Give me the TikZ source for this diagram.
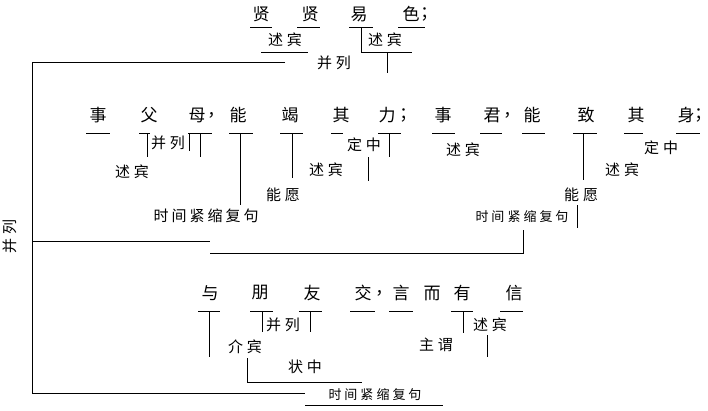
\documentclass[tikz,border=0pt]{standalone}
\usepackage{fontspec}
\newfontfamily\cjk{Noto Sans CJK SC}
\newcommand\gp{\hspace{4pt}}
\begin{document}
\begin{tikzpicture}[x=1pt,y=-1pt,line width=0.9pt,
  ch/.style={font=\cjk\fontsize{17}{17}\selectfont,inner sep=0},
  lb/.style={font=\cjk\fontsize{15}{15}\selectfont,inner sep=0},
  sm/.style={font=\cjk\fontsize{13}{13}\selectfont,inner sep=0},
  pn/.style={font=\cjk\fontsize{17}{17}\selectfont,inner sep=0,anchor=west}]
\useasboundingbox (0,0) rectangle (708,410);
\fill[white] (0,0) rectangle (708,410);
% ---------- top clause ----------
\node[ch] (a1) at (261,14) {贤};
\node[ch] (a2) at (310,14) {贤};
\node[ch] (a3) at (359,14) {易};
\node[ch] (a4) at (411,14) {色};
\node[pn] (a5) at (420,14) {；};
\draw (250,27) -- (272,27) (297,27) -- (320,27) (349,27) -- (373,27) (398,27) -- (425,27);
\node[lb] (la1) at (285,40) {述\gp 宾};
\draw (261,52) -- (308,52);
\draw (361,27) -- (361,52) -- (412,52);
\node[lb] (la2) at (385,40) {述\gp 宾};
\draw (387,52) -- (387,73);
\node[lb] (la3) at (334,63) {并\gp 列};
\draw (285,62) -- (32,62) -- (32,393) -- (305,393);
\node[lb,rotate=90] (lbig) at (10,236) {并\gp 列};
% ---------- middle clause ----------
\node[ch] (b1) at (98,115) {事};
\node[ch] (b2) at (149,115) {父};
\node[ch] (b3) at (197,115) {母};
\node[pn] (b4) at (207,115) {，};
\node[ch] (b5) at (238,115) {能};
\node[ch] (b6) at (290,115) {竭};
\node[ch] (b7) at (341,115) {其};
\node[ch] (b8) at (387,115) {力};
\node[pn] (b9) at (399,115) {；};
\node[ch] (c1) at (443,115) {事};
\node[ch] (c2) at (492,115) {君};
\node[pn] (c3) at (503,115) {，};
\node[ch] (c4) at (532,115) {能};
\node[ch] (c5) at (586,115) {致};
\node[ch] (c6) at (636,115) {其};
\node[ch] (c7) at (686,115) {身};
\node[pn] (c8) at (694,115) {\makebox[8pt][l]{；}};
\draw (86,133) -- (110,133) (139,133) -- (150,133) (188,133) -- (212,133)
      (229,133) -- (253,133) (280,133) -- (303,133) (331,133) -- (343,133)
      (378,133) -- (401,133) (432,133) -- (455,133) (480,133) -- (502,133)
      (522,133) -- (545,133) (573,133) -- (597,133) (624,133) -- (643,133)
      (676,133) -- (700,133);
% left half labels
\draw (147,133) -- (147,157);
\node[lb] (lb1) at (168,143) {并\gp 列};
\draw (189,133) -- (189,151) (200,133) -- (200,157);
\node[lb] (lb2) at (132,172) {述\gp 宾};
\draw (240,133) -- (240,205);
\draw (292,133) -- (292,178);
\node[lb] (lb3) at (364,145) {定\gp 中};
\draw (389,133) -- (389,157);
\draw (368,157) -- (368,181);
\node[lb] (lb4) at (326,170) {述\gp 宾};
\node[lb] (lb5) at (283,195) {能\gp 愿};
\node[lb] (lb6) at (206,216) {时\hspace{3pt}间\hspace{3pt}紧\hspace{3pt}缩\hspace{3pt}复\hspace{3pt}句};
% right half labels
\node[lb] (lc1) at (463,150) {述\gp 宾};
\node[lb] (lc2) at (661,148) {定\gp 中};
\node[lb] (lc3) at (622,170) {述\gp 宾};
\draw (583,133) -- (583,180);
\node[lb] (lc4) at (581,195) {能\gp 愿};
\draw (577,205) -- (577,228);
\node[sm] (lc5) at (522,217) {时\hspace{3pt}间\hspace{3pt}紧\hspace{3pt}缩\hspace{3pt}复\hspace{3pt}句};
% joining lines
\draw (32,241) -- (210,241);
\draw (210,253) -- (523,253) -- (523,230);
% ---------- bottom clause ----------
\node[ch] (d1) at (210,293) {与};
\node[ch] (d2) at (260,293) {朋};
\node[ch] (d3) at (312,293) {友};
\node[ch] (d4) at (363,293) {交};
\node[pn] (d5) at (375,293) {，};
\node[ch] (d6) at (401,293) {言};
\node[ch] (d7) at (432,293) {而};
\node[ch] (d8) at (462,293) {有};
\node[ch] (d9) at (514,293) {信};
\draw (198,311) -- (220,311) (250,311) -- (273,311) (299,311) -- (322,311)
      (350,311) -- (375,311) (389,311) -- (413,311) (451,311) -- (473,311)
      (500,311) -- (523,311);
\draw (209,311) -- (209,357);
\draw (262,311) -- (262,332) (310,311) -- (310,332);
\node[lb] (ld1) at (283,325) {并\gp 列};
\node[lb] (ld2) at (245,347) {介\gp 宾};
\draw (247,358) -- (247,382) -- (362,382);
\node[lb] (ld3) at (305,367) {状\gp 中};
\draw (463,311) -- (463,333);
\node[lb] (ld4) at (490,325) {述\gp 宾};
\draw (487,335) -- (487,357);
\node[lb] (ld5) at (436,345) {主\gp 谓};
\node[sm] (ld6) at (375,395) {时\hspace{3pt}间\hspace{3pt}紧\hspace{3pt}缩\hspace{3pt}复\hspace{3pt}句};
\draw (305,405) -- (443,405);
\end{tikzpicture}
\end{document}
